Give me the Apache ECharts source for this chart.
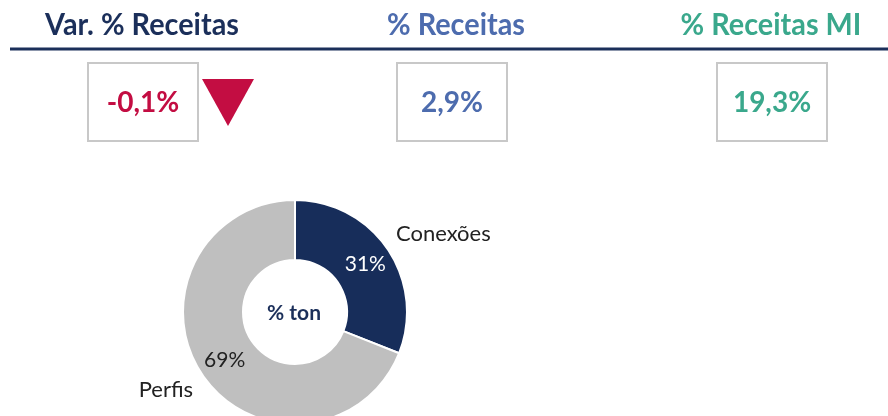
<!DOCTYPE html>
<html>
<head>
<meta charset="utf-8">
<script src="https://cdn.jsdelivr.net/npm/echarts@6/dist/echarts.min.js"></script>
<style>
  html, body { margin: 0; padding: 0; background: #fff; }
  #chart { width: 888px; height: 416px; }
</style>
</head>
<body>
<div id="chart"></div>
<script>
// indicadores do topo
const kpiTitles = ['Var. % Receitas', '% Receitas', '% Receitas MI'];
const kpiValues = ['-0,1%', '2,9%', '19,3%'];
const kpiColors = ['#c30d42', '#4d6cae', '#3aa88c'];
const titleColors = ['#1b2f5a', '#4d6cae', '#3aa88c'];

// donut % ton
const pieNames = ['Conexões', 'Perfis'];
const pieValues = [31, 69];
const pieColors = ['#172d5a', '#bfbfbf'];

const FONT = 'Lato, "Open Sans", sans-serif';
const titleX = [142, 456, 771];
const boxX = [88, 397, 717];

const chart = echarts.init(document.getElementById('chart'));

let graphics = [];
kpiTitles.forEach((t, i) => {
  graphics.push({
    type: 'text', x: titleX[i], y: 25, scaleX: 0.93,
    style: { text: t, fill: titleColors[i], font: 'bold 31px ' + FONT, textAlign: 'center', textVerticalAlign: 'middle' }
  });
  graphics.push({
    type: 'rect', shape: { x: boxX[i], y: 63, width: 110, height: 78 },
    style: { fill: '#fff', stroke: '#c8c8c8', lineWidth: 2 }
  });
  graphics.push({
    type: 'text', x: boxX[i] + 55, y: 103,
    style: { text: kpiValues[i], fill: kpiColors[i], font: 'bold 28px ' + FONT, textAlign: 'center', textVerticalAlign: 'middle' }
  });
});
// linha do cabeçalho
graphics.push({
  type: 'line', shape: { x1: 10, y1: 49, x2: 888, y2: 49 },
  style: { stroke: '#1b2f5a', lineWidth: 3 }
});
// seta de queda
graphics.push({
  type: 'polygon', shape: { points: [[202, 79], [254, 79], [228, 126]] },
  style: { fill: '#c30d42' }
});
// texto central
graphics.push({
  type: 'text', x: 294, y: 313,
  style: { text: '% ton', fill: '#1b2f5a', font: 'bold 21px ' + FONT, textAlign: 'center', textVerticalAlign: 'middle' }
});

const pieData = pieNames.map((n, i) => ({ name: n, value: pieValues[i], itemStyle: { color: pieColors[i] } }));

chart.setOption({
  animation: false,
  graphic: graphics,
  series: [
    {
      type: 'pie',
      center: [295, 312],
      radius: [52, 112],
      startAngle: 90,
      clockwise: true,
      itemStyle: { borderColor: '#fff', borderWidth: 2 },
      label: {
        position: 'inside',
        formatter: p => p.value + '%',
        fontFamily: FONT,
        fontSize: 21,
        color: '#fff'
      },
      data: pieData.map((d, i) => Object.assign({}, d, i === 1 ? { label: { color: '#222' } } : {})),
      silent: true
    },
    {
      type: 'pie',
      center: [295, 312],
      radius: [52, 112],
      startAngle: 90,
      clockwise: true,
      itemStyle: { color: 'transparent', borderWidth: 0 },
      label: {
        position: 'outside',
        formatter: '{b}',
        fontFamily: FONT,
        fontSize: 22,
        color: '#222'
      },
      labelLine: { show: false, length: 27, length2: 0 },
      labelLayout: p => (p.dataIndex === 0 ? { dx: -19 } : { dx: 18 }),
      data: pieNames.map((n, i) => ({ name: n, value: pieValues[i] })),
      silent: true
    }
  ]
});
</script>
</body>
</html>
